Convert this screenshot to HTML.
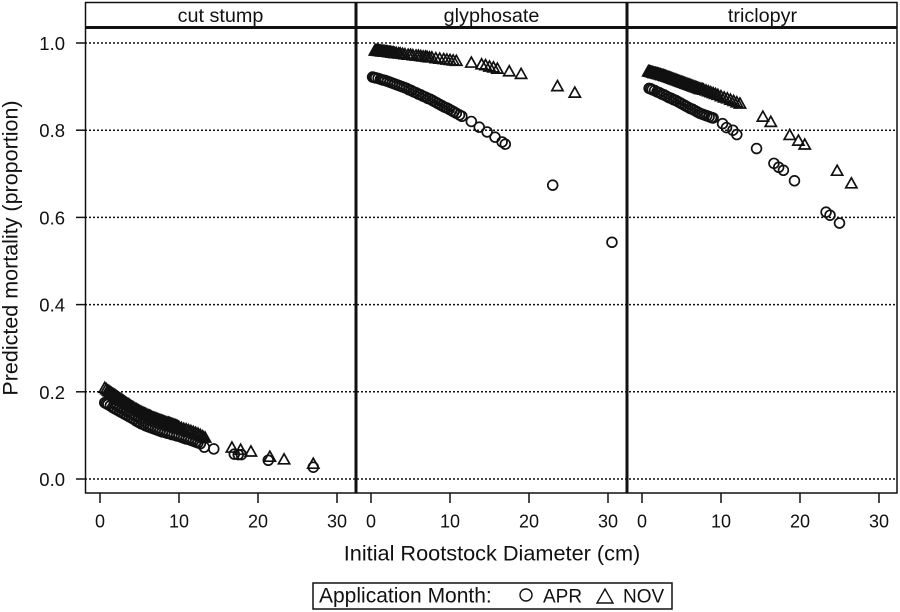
<!DOCTYPE html>
<html>
<head>
<meta charset="utf-8">
<title>Predicted mortality chart</title>
<style>
html,body{margin:0;padding:0;background:#fff;}
svg{display:block;}
text{font-family:"Liberation Sans",Arial,sans-serif;fill:#111;}
</style>
</head>
<body>
<svg id="chart" xmlns="http://www.w3.org/2000/svg" width="900" height="612" viewBox="0 0 900 612">
  <rect x="0" y="0" width="900" height="612" fill="#fff"/>
  <g id="grid"></g>
  <g id="marks"></g>
  <g id="frame" fill="none" stroke="#111">
    <rect x="85.5" y="2.5" width="811.5" height="490.5" stroke-width="1.5"/>
    <line x1="85" y1="27.5" x2="897" y2="27.5" stroke-width="3"/>
    <line x1="356" y1="2" x2="356" y2="493" stroke-width="3"/>
    <line x1="627" y1="2" x2="627" y2="493" stroke-width="3"/>
  </g>
  <g id="axes"></g>
  <text transform="translate(17.5 248) rotate(-90)" text-anchor="middle" font-size="21.5">Predicted mortality (proportion)</text>
  <text x="492" y="560.5" text-anchor="middle" font-size="21.7">Initial Rootstock Diameter (cm)</text>
  <g>
    <rect x="313" y="583" width="359" height="26" fill="#fff" stroke="#111" stroke-width="1.5"/>
    <text x="319" y="602.5" font-size="21">Application Month:</text>
    <circle cx="526" cy="595" r="6" fill="none" stroke="#111" stroke-width="1.4"/>
    <text x="543" y="602.5" font-size="19">APR</text>
    <path d="M605 589 L613 603 L597 603 Z" fill="none" stroke="#111" stroke-width="1.4"/>
    <text x="623" y="602.5" font-size="19">NOV</text>
  </g>
</svg>
<script>
const panels = ["cut stump", "glyphosate", "triclopyr"];
const xTicks = [0, 10, 20, 30];
const yTicks = [0.0, 0.2, 0.4, 0.6, 0.8, 1.0];

const cutAprX = [0.6,0.8,1,1.3,1.6,1.9,2.2,2.5,2.8,3.1,3.4,3.7,4,4.3,4.6,4.9,5.2,5.5,5.8,6.1,6.4,6.7,7,7.3,7.6,7.9,8.2,8.5,8.8,9.1,9.4,9.7,10,10.3,10.6,10.9,11.2,11.5,11.8,12.1,12.4,12.7,13.2,14.4,17,17.5,17.9,21.3,27];
const cutAprY = [0.175,0.173,0.171,0.168,0.164,0.161,0.158,0.155,0.152,0.149,0.146,0.143,0.14,0.137,0.133,0.13,0.127,0.125,0.122,0.12,0.118,0.116,0.114,0.112,0.11,0.108,0.107,0.105,0.104,0.102,0.101,0.099,0.098,0.096,0.094,0.092,0.091,0.089,0.087,0.085,0.083,0.081,0.073,0.069,0.057,0.056,0.056,0.043,0.027];
const cutNovX = [0.6,0.8,1,1.15,1.3,1.45,1.6,1.75,1.9,2.05,2.2,2.35,2.5,2.65,2.8,2.95,3.1,3.25,3.4,3.55,3.7,3.85,4,4.15,4.3,4.45,4.6,4.75,4.9,5.05,5.2,5.35,5.5,5.65,5.8,5.95,6.1,6.25,6.4,6.55,6.7,6.85,7,7.15,7.3,7.45,7.6,7.75,7.9,8.05,8.2,8.35,8.5,8.65,8.8,8.95,9.1,9.25,9.4,9.55,9.7,9.85,10,10.3,10.6,10.9,11.2,11.5,11.8,12.1,12.4,12.7,13,13.3,16.7,17.8,19.1,21.5,23.3,27];
const cutNovY = [0.208,0.205,0.202,0.2,0.198,0.196,0.194,0.193,0.191,0.189,0.187,0.185,0.183,0.182,0.18,0.178,0.176,0.174,0.172,0.171,0.169,0.167,0.165,0.164,0.162,0.16,0.159,0.157,0.156,0.154,0.153,0.151,0.15,0.149,0.148,0.146,0.145,0.144,0.143,0.141,0.14,0.139,0.138,0.137,0.136,0.135,0.134,0.133,0.132,0.131,0.13,0.129,0.128,0.128,0.127,0.126,0.125,0.124,0.123,0.122,0.121,0.12,0.118,0.116,0.114,0.113,0.111,0.109,0.107,0.105,0.103,0.1,0.097,0.094,0.071,0.066,0.062,0.05,0.044,0.034];

const glyAprX = [0.2,0.4,0.6,0.9,1.2,1.5,1.8,2.1,2.4,2.7,3,3.3,3.6,3.9,4.2,4.5,4.8,5.1,5.4,5.7,6,6.3,6.6,6.9,7.2,7.5,7.8,8.1,8.4,8.7,9,9.3,9.6,9.9,10.2,10.5,10.8,11.2,11.5,12.7,13.7,14.7,15.7,16.6,17,23,30.5];
const glyAprY = [0.922,0.921,0.92,0.919,0.917,0.915,0.914,0.912,0.91,0.908,0.906,0.904,0.902,0.9,0.898,0.896,0.893,0.891,0.888,0.886,0.883,0.881,0.878,0.876,0.873,0.871,0.868,0.865,0.862,0.859,0.856,0.853,0.851,0.848,0.845,0.842,0.839,0.835,0.832,0.82,0.807,0.796,0.784,0.773,0.768,0.674,0.543];
const glyNovX = [0.5,0.6,0.7,0.8,0.9,1,1.1,1.2,1.3,1.4,1.5,1.6,1.7,1.8,1.9,2,2.1,2.2,2.3,2.4,2.5,2.6,2.7,2.85,3,3.2,3.5,3.7,4,4.3,4.7,5,5.3,5.7,6,6.3,6.6,6.9,7.1,7.4,7.7,8.2,8.7,9.2,9.6,10,10.4,10.8,12.7,14,14.5,15,15.5,16,17.5,19,23.6,25.8];
const glyNovY = [0.982,0.982,0.982,0.982,0.981,0.981,0.981,0.981,0.98,0.98,0.98,0.98,0.98,0.979,0.979,0.979,0.979,0.978,0.978,0.978,0.978,0.977,0.977,0.977,0.976,0.976,0.975,0.975,0.974,0.973,0.972,0.972,0.971,0.97,0.97,0.969,0.968,0.968,0.967,0.966,0.966,0.964,0.963,0.962,0.961,0.96,0.959,0.958,0.954,0.95,0.948,0.945,0.943,0.94,0.934,0.928,0.9,0.885];

const triAprX = [0.9,1.1,1.3,1.6,1.9,2.2,2.5,2.8,3.1,3.4,3.7,4,4.3,4.6,4.9,5.2,5.5,5.8,6.1,6.4,6.7,7,7.3,7.6,7.9,8.2,8.5,8.8,9,10.2,10.7,11.5,12,14.5,16.7,17.3,17.9,19.3,23.3,23.8,25];
const triAprY = [0.896,0.895,0.893,0.891,0.888,0.886,0.883,0.881,0.878,0.875,0.873,0.87,0.868,0.865,0.862,0.859,0.856,0.853,0.85,0.848,0.845,0.842,0.839,0.837,0.835,0.833,0.831,0.829,0.828,0.815,0.806,0.8,0.79,0.758,0.724,0.715,0.708,0.684,0.612,0.605,0.587];
const triNovX = [0.8,0.9,1,1.1,1.2,1.3,1.4,1.5,1.6,1.7,1.8,1.9,2,2.1,2.2,2.3,2.4,2.5,2.6,2.7,2.8,2.9,3,3.15,3.3,3.45,3.6,3.75,3.9,4.05,4.2,4.35,4.5,4.65,4.8,4.95,5.1,5.25,5.4,5.55,5.7,5.85,6,6.15,6.3,6.45,6.6,6.75,6.9,7.05,7.2,7.35,7.5,7.65,7.8,8.1,8.4,8.7,9,9.3,9.6,10,10.4,10.8,11.2,11.6,12,12.4,15.3,16.3,18.7,19.8,20.6,24.7,26.5];
const triNovY = [0.934,0.934,0.933,0.933,0.932,0.932,0.931,0.93,0.93,0.93,0.929,0.929,0.928,0.928,0.927,0.927,0.926,0.925,0.925,0.925,0.924,0.923,0.923,0.922,0.921,0.92,0.919,0.918,0.917,0.916,0.915,0.914,0.913,0.912,0.911,0.91,0.909,0.908,0.907,0.906,0.905,0.904,0.903,0.902,0.901,0.9,0.899,0.898,0.897,0.896,0.895,0.894,0.893,0.893,0.892,0.89,0.888,0.886,0.884,0.882,0.88,0.877,0.874,0.872,0.869,0.866,0.863,0.86,0.83,0.818,0.788,0.775,0.766,0.706,0.677];

const panelZero = 100;
const panelStep = 271;
const xUnit = 7.9;
const yZero = 479;
const yUnit = 436;
const NS = "http://www.w3.org/2000/svg";

function xScale(panel, v) { return panelZero + panel * panelStep + v * xUnit; }
function yScale(v) { return yZero - v * yUnit; }
function make(tag, attrs, parent) {
  const el = document.createElementNS(NS, tag);
  for (const k in attrs) el.setAttribute(k, attrs[k]);
  parent.appendChild(el);
  return el;
}

const gridG = document.getElementById("grid");
const axesG = document.getElementById("axes");
const marksG = document.getElementById("marks");

yTicks.forEach(function (t) {
  const y = yScale(t);
  const grid = make("line", {x1: 85, x2: 897, y1: y, y2: y, stroke: "#111", "stroke-width": 1.5, "stroke-dasharray": "2 2"}, gridG);
  
  
  const tick = make("line", {x1: 76, x2: 85, y1: y, y2: y, stroke: "#111", "stroke-width": 1.5}, axesG);
  
  
  const label = make("text", {x: 65, y: y + 7, "text-anchor": "end", "font-size": 18.5}, axesG);
  
  
  label.textContent = t.toFixed(1);
});

panels.forEach(function (name, p) {
  const strip = make("text", {x: xScale(p, 0) + 120.5, y: 22, "text-anchor": "middle", "font-size": 19.8}, axesG);
  
  
  strip.textContent = name;
  xTicks.forEach(function (t) {
    const x = xScale(p, t);
    const tick = make("line", {x1: x, x2: x, y1: 493, y2: 503, stroke: "#111", "stroke-width": 1.5}, axesG);
    
    
    const label = make("text", {x: x, y: 527.5, "text-anchor": "middle", "font-size": 18}, axesG);
    
    
    label.textContent = t;
  });
});

function drawCircles(panel, xs, ys) {
  xs.forEach(function (v, i) {
    const c = make("circle", {cx: xScale(panel, v), cy: yScale(ys[i]), r: 4.9, fill: "none", stroke: "#111", "stroke-width": 1.7}, marksG);
    
    
  });
}
function drawTriangles(panel, xs, ys) {
  xs.forEach(function (v, i) {
    const x = xScale(panel, v);
    const y = yScale(ys[i]);
    const d = "M" + x + " " + (y - 6) + " L" + (x + 5.6) + " " + (y + 4) + " L" + (x - 5.6) + " " + (y + 4) + " Z";
    const t = make("path", {d: d, fill: "none", stroke: "#111", "stroke-width": 1.7}, marksG);
    
    
  });
}

drawCircles(0, cutAprX, cutAprY);
drawTriangles(0, cutNovX, cutNovY);
drawCircles(1, glyAprX, glyAprY);
drawTriangles(1, glyNovX, glyNovY);
drawCircles(2, triAprX, triAprY);
drawTriangles(2, triNovX, triNovY);
</script>
</body>
</html>
